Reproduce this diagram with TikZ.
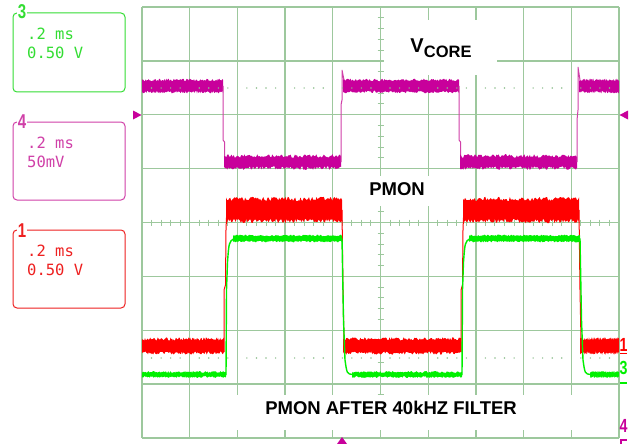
\documentclass[tikz,border=0pt]{standalone}
\usepackage{fontspec}
\setmainfont{Liberation Sans}
\newfontfamily\scopefont{DejaVu Sans Mono}
\definecolor{gridc}{HTML}{9DC89D}
\definecolor{dotc}{HTML}{8FC08F}
\definecolor{magt}{HTML}{C8009B}
\definecolor{magl}{HTML}{D040A8}
\definecolor{redt}{HTML}{FF0000}
\definecolor{redl}{HTML}{EE2020}
\definecolor{grnt}{HTML}{00F000}
\definecolor{grnl}{HTML}{33DD33}
\newcommand\tband[6]{\fill[#1] (#2,#4) -- plot[domain=#2:#3,samples=110] (\x,{#4+#6*rand}) -- plot[domain=#3:#2,samples=110] (\x,{#5+#6*rand}) -- cycle;}
\tikzset{
  gridline/.style={draw=gridc,line width=1.3pt},
  tickline/.style={draw=gridc,line width=1pt},
  chbox/.style={rounded corners=4pt,line width=1pt},
  chnum/.style={font=\bfseries\fontsize{20}{20}\selectfont,inner sep=0.5pt,fill=white,xscale=0.75},
  chtxt/.style={font=\scopefont\fontsize{15.5}{15.5}\selectfont,anchor=west,inner sep=0pt},
  lbl/.style={fill=white,font=\bfseries\fontsize{18.5}{18.5}\selectfont,inner sep=0pt},
  rnum/.style={font=\bfseries\fontsize{19}{19}\selectfont,inner sep=0pt,xscale=0.75},
  edge/.style={line width=1pt}
}
\begin{document}
\begin{tikzpicture}[x=1pt,y=-1pt]
\useasboundingbox (0,0) rectangle (635,444);
\fill[white] (0,0) rectangle (635,444);
\pgfmathsetseed{7}
% grid
\foreach \i in {0,...,10} \draw[gridline] ({142+\i*47.7},7) -- ({142+\i*47.7},438);
\foreach \j in {0,...,8} \draw[gridline] (142,{7+\j*53.875}) -- (619,{7+\j*53.875});
% centre ticks
\foreach \k in {1,...,49} \draw[tickline] ({142+\k*9.54},219.5) -- ({142+\k*9.54},225.5);
\foreach \k in {1,...,39} \draw[tickline] (377.5,{7+\k*10.775}) -- (383.5,{7+\k*10.775});
% label backgrounds
\fill[white] (384,20) rectangle (497,75);
\fill[white] (362,176) rectangle (440,206);
\fill[white] (215,395) rectangle (597,430);
% magenta trace (VCORE)
\tband{magt}{142}{223}{80}{92}{1.3}
\draw[magl,edge] (223,86) -- (223,140) -- (224.5,142) -- (224.5,160);
\tband{magt}{224}{341}{156}{168}{1.8}
\draw[magl,edge] (341,162) -- (341,105) -- (342,100) -- (342,70) -- (344,80);
\tband{magt}{343}{459}{80}{92}{1.3}
\draw[magl,edge] (459,86) -- (459,140) -- (460.5,142) -- (460.5,160);
\tband{magt}{460}{577}{156}{168}{1.8}
\draw[magl,edge] (577,162) -- (577,120) -- (578,110) -- (578,67) -- (580,80);
\tband{magt}{579}{619}{80}{92}{1.3}
% red trace (PMON)
\tband{redt}{142}{224}{339}{353}{1.6}
\draw[redt,edge] (224,352) -- (224,290) -- (225.5,285) -- (226,230) -- (227,205);
\tband{redt}{226}{342}{199}{221}{2.2}
\draw[redt,edge] (342,210) -- (343,290) -- (344,340);
\tband{redt}{343}{461}{339}{353}{1.6}
\draw[redt,edge] (461,352) -- (461,290) -- (462.5,285) -- (463,230) -- (464,205);
\tband{redt}{463}{579}{199}{221}{2.2}
\draw[redt,edge] (579,210) -- (580,290) -- (581,340);
\tband{redt}{580}{619}{339}{353}{1.6}
% green trace (filtered)
\tband{grnt}{142}{226}{372}{377}{0.9}
\draw[grnt,line width=1.4pt] (226,375) -- (226.5,290) -- (227.5,262) .. controls (229,242) .. (234,238.5);
\tband{grnt}{233}{342}{235.5}{241.5}{0.9}
\draw[grnt,line width=1.4pt] (342,238.5) -- (343.5,320) -- (345,360) .. controls (347,374) .. (353,374.5);
\tband{grnt}{352}{462}{372}{377}{0.9}
\draw[grnt,line width=1.4pt] (462,375) -- (462.5,290) -- (463.5,262) .. controls (465,242) .. (470,238.5);
\tband{grnt}{469}{580}{235.5}{241.5}{0.9}
\draw[grnt,line width=1.4pt] (580,238.5) -- (581.5,320) -- (583,360) .. controls (585,374) .. (591,374.5);
\tband{grnt}{590}{619}{372}{377}{0.9}
% dotted marker lines
\foreach \k in {1,...,49} {
  \pgfmathtruncatemacro\m{mod(\k,5)}
  \ifnum\m>0
    \fill[dotc] ({142+\k*9.54},88) circle (0.8);
    \fill[dotc] ({142+\k*9.54},358) circle (0.8);
  \fi
}
% labels
\node[lbl] (vcore) at (441,48) {\fontsize{20}{20}\selectfont V\raisebox{-5pt}{\fontsize{16.5}{16.5}\selectfont CORE}};
\node[lbl] (pmon) at (397,189) {PMON};
\node[lbl] (pfilt) at (391,408) {PMON AFTER 40kHZ FILTER};
% channel boxes
\draw[grnl,chbox] (13,13) rectangle (125,92);
\node[chnum,text=grnl] (n3) at (22,12) {3};
\node[chtxt,text=grnl] (t3a) at (27,34) {.2 ms};
\node[chtxt,text=grnl] (t3b) at (27,53) {0.50 V};
\draw[magl,chbox] (13,122) rectangle (125,200);
\node[chnum,text=magl] (n4) at (22,122) {4};
\node[chtxt,text=magl] (t4a) at (27,143) {.2 ms};
\node[chtxt,text=magl] (t4b) at (27,162) {50mV};
\draw[redl,chbox] (13,230) rectangle (125,308);
\node[chnum,text=redl] (n1) at (22,231) {1};
\node[chtxt,text=redl] (t1a) at (27,251) {.2 ms};
\node[chtxt,text=redl] (t1b) at (27,270) {0.50 V};
% markers
\fill[magt] (133,110.5) -- (141.5,115) -- (133,119.5) -- cycle;
\fill[magt] (628,110.5) -- (619.5,115) -- (628,119.5) -- cycle;
\fill[magt] (337,444) -- (342,437) -- (347,444) -- cycle;
% right channel markers
\node[rnum,text=redt] (r1) at (623.5,344.5) {1};
\draw[redt,line width=1.3pt] (620,353.5) -- (627,353.5);
\node[rnum,text=grnt] (r3) at (623.5,368) {3};
\draw[grnt,line width=1.3pt] (620,383) -- (627,383);
\node[rnum,text=magt] (r4) at (623.5,426) {4};
\draw[magt,line width=1.5pt] (620,440) -- (627,440);
\draw[magt,line width=1.3pt] (621,440) -- (621,444);
\end{tikzpicture}
\end{document}
